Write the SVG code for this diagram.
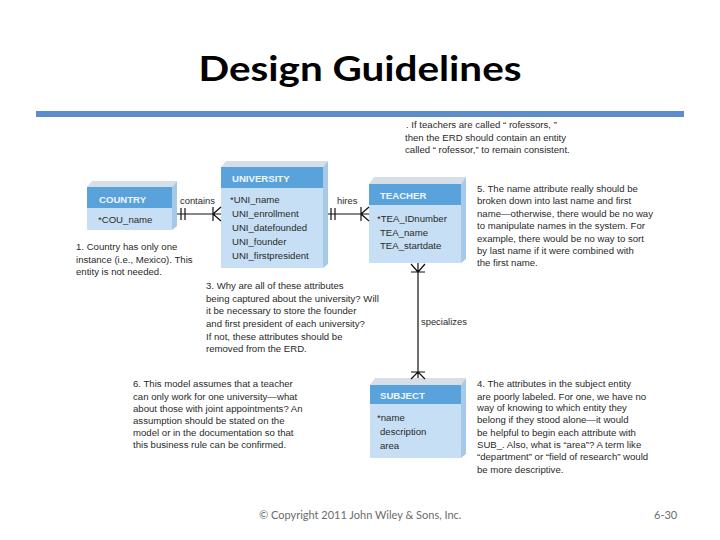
<svg xmlns="http://www.w3.org/2000/svg" width="720" height="540" viewBox="0 0 720 540">
<style>
.title{font-family:Lato,"Open Sans","Liberation Sans",sans-serif;font-weight:bold;font-size:35px;fill:#000}
.foot{font-family:Lato,"Open Sans","Liberation Sans",sans-serif;font-size:11px;fill:#6b6b6b}
.note{font-family:"Liberation Sans",Arial,sans-serif;font-size:9.6px;fill:#2a2a2a}
.hdr{font-family:"Liberation Sans",Arial,sans-serif;font-weight:bold;font-size:9.6px;fill:#eef6fd}
.attr{font-family:"Liberation Sans",Arial,sans-serif;font-size:9.6px;fill:#2a2a2a}
.lbl{font-family:"Liberation Sans",Arial,sans-serif;font-size:9.4px;fill:#2a2a2a}
.top{fill:#d6dfe7}
.side{fill:#a6c9e7}
.head{fill:#5aa2dc}
.body{fill:#c6dff4}
.ln{stroke:#111;stroke-width:1.2;fill:none}
</style>
<rect width="720" height="540" fill="#fff"/>
<text class="title" x="360" y="81" text-anchor="middle" textLength="323" lengthAdjust="spacingAndGlyphs">Design Guidelines</text>
<rect x="36" y="111" width="648" height="6" fill="#5b8ccb"/>

<g id="country">
<polygon class="top" points="87,187 92,181 177,181 172,187"/>
<polygon class="side" points="172,187 177,181 177,226 172,230"/>
<rect class="head" x="87" y="187" width="85" height="21"/>
<rect class="body" x="87" y="208" width="85" height="22"/>
<text class="hdr" x="99" y="203">COUNTRY</text>
<text class="attr" x="98" y="223">*COU_name</text>
</g>

<g id="university">
<polygon class="top" points="221,167 226,161 328,161 323,167"/>
<polygon class="side" points="323,167 328,161 328,264 323,268"/>
<rect class="head" x="221" y="167" width="102" height="21"/>
<rect class="body" x="221" y="188" width="102" height="80"/>
<text class="hdr" x="232" y="182">UNIVERSITY</text>
<text class="attr" x="230" y="203">*UNI_name</text>
<text class="attr" x="232" y="217">UNI_enrollment</text>
<text class="attr" x="232" y="231">UNI_datefounded</text>
<text class="attr" x="232" y="245">UNI_founder</text>
<text class="attr" x="232" y="259">UNI_firstpresident</text>
</g>

<g id="teacher">
<polygon class="top" points="369,184 374,177 466,177 461,184"/>
<polygon class="side" points="461,184 466,177 466,259 461,263"/>
<rect class="head" x="369" y="184" width="92" height="21"/>
<rect class="body" x="369" y="205" width="92" height="58"/>
<text class="hdr" x="380" y="199">TEACHER</text>
<text class="attr" x="377" y="222">*TEA_IDnumber</text>
<text class="attr" x="380" y="236">TEA_name</text>
<text class="attr" x="380" y="249">TEA_startdate</text>
</g>

<g id="subject">
<polygon class="top" points="370,385 375,378 466,378 461,385"/>
<polygon class="side" points="461,385 466,378 466,454 461,458"/>
<rect class="head" x="370" y="385" width="91" height="19"/>
<rect class="body" x="370" y="404" width="91" height="54"/>
<text class="hdr" x="380" y="399">SUBJECT</text>
<text class="attr" x="377" y="421">*name</text>
<text class="attr" x="380" y="435">description</text>
<text class="attr" x="380" y="449">area</text>
</g>

<g id="connectors">
<path class="ln" d="M177,214 H221 M181,208 V220 M185,208 V220 M213,207 V221 M213,214 L221,207 M213,214 L221,221"/>
<path class="ln" d="M328,214 H369 M331,208 V220 M335,208 V220 M361,207 V221 M361,214 L369,207 M361,214 L369,221"/>
<path class="ln" d="M418,263 V378 M411,272 H425 M418,272 L411,264 M418,272 L425,264 M411,372 H425 M418,372 L411,379 M418,372 L425,379"/>
<text class="lbl" x="180" y="204">contains</text>
<text class="lbl" x="337" y="204">hires</text>
<text class="lbl" x="421" y="325">specializes</text>
</g>

<g id="notes">
<text class="note" x="406" y="128">. If teachers are called “ rofessors, ”</text>
<text class="note" x="405" y="141">then the ERD should contain an entity</text>
<text class="note" x="405" y="153">called “ rofessor,” to remain consistent.</text>

<text class="note" x="477" y="192">5. The name attribute really should be</text>
<text class="note" x="477" y="204">broken down into last name and first</text>
<text class="note" x="477" y="217">name—otherwise, there would be no way</text>
<text class="note" x="477" y="229">to manipulate names in the system. For</text>
<text class="note" x="477" y="242">example, there would be no way to sort</text>
<text class="note" x="477" y="254">by last name if it were combined with</text>
<text class="note" x="477" y="266">the first name.</text>

<text class="note" x="76" y="250">1. Country has only one</text>
<text class="note" x="76" y="263">instance (i.e., Mexico). This</text>
<text class="note" x="76" y="275">entity is not needed.</text>

<text class="note" x="206" y="289">3. Why are all of these attributes</text>
<text class="note" x="206" y="302">being captured about the university? Will</text>
<text class="note" x="206" y="314">it be  necessary to store the founder</text>
<text class="note" x="206" y="327">and first president of each university?</text>
<text class="note" x="206" y="340">If not, these attributes should be</text>
<text class="note" x="206" y="352">removed from the ERD.</text>

<text class="note" x="133" y="387">6. This model assumes that a teacher</text>
<text class="note" x="133" y="400">can only work for one university—what</text>
<text class="note" x="133" y="412">about those with joint appointments? An</text>
<text class="note" x="133" y="424">assumption should be stated on the</text>
<text class="note" x="133" y="436">model or in the documentation so that</text>
<text class="note" x="133" y="448">this business rule can be confirmed.</text>

<text class="note" x="477" y="387">4. The attributes in the subject entity</text>
<text class="note" x="477" y="400">are poorly labeled. For one, we have no</text>
<text class="note" x="477" y="411">way of knowing to which entity they</text>
<text class="note" x="477" y="423">belong if they stood alone—it would</text>
<text class="note" x="477" y="436">be helpful to begin each attribute with</text>
<text class="note" x="477" y="448">SUB_. Also, what is “area”? A term like</text>
<text class="note" x="477" y="460">“department” or “field of research” would</text>
<text class="note" x="477" y="473">be more descriptive.</text>
</g>

<text class="foot" x="259" y="519">© Copyright 2011 John Wiley &amp; Sons, Inc.</text>
<text class="foot" x="654" y="519">6-30</text>
</svg>
